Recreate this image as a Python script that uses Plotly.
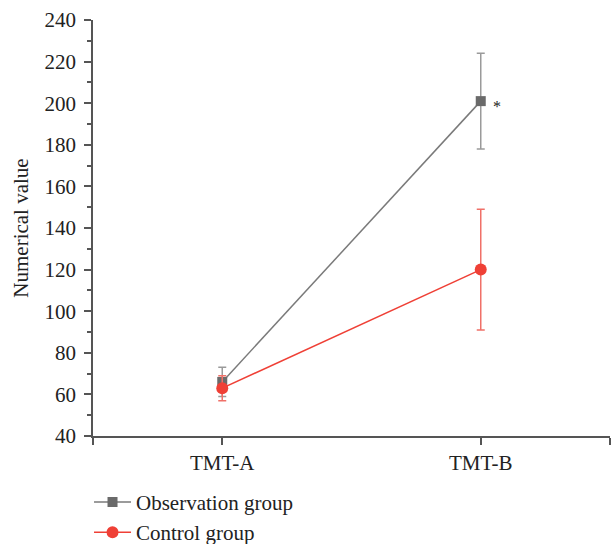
import plotly.graph_objects as go

categories = ["TMT-A", "TMT-B"]
cat_pos = [0, 1]
obs_values = [66, 201]
obs_err = [7, 23]
ctrl_values = [63, 120]
ctrl_err = [6, 29]
y_ticks = [40, 60, 80, 100, 120, 140, 160, 180, 200, 220, 240]

FONT = "Liberation Serif"
GRAY = "#6a6a6a"
RED = "#ef4036"

fig = go.Figure()
fig.add_trace(go.Scatter(
    x=cat_pos, y=obs_values, name="Observation group", mode="lines+markers",
    line=dict(color="#7a7a7a", width=1.5),
    marker=dict(symbol="square", size=10, color=GRAY),
    error_y=dict(type="data", array=obs_err, visible=True, color="#9a9a9a", thickness=1.5, width=4),
))
fig.add_trace(go.Scatter(
    x=cat_pos, y=ctrl_values, name="Control group", mode="lines+markers",
    line=dict(color=RED, width=1.5),
    marker=dict(symbol="circle", size=12, color=RED),
    error_y=dict(type="data", array=ctrl_err, visible=True, color="#f07068", thickness=1.5, width=4),
))

fig.add_annotation(x=cat_pos[1], y=obs_values[1], text="*", showarrow=False,
                   xshift=16, yshift=-5, font=dict(family=FONT, size=16, color="#222"))

fig.update_layout(
    width=616, height=544,
    margin=dict(l=93, r=6, t=20, b=108, autoexpand=False),
    paper_bgcolor="white", plot_bgcolor="white",
    font=dict(family=FONT, size=21, color="#222"),
    showlegend=True,
    legend=dict(x=-0.0077, y=-0.11, xanchor="left", yanchor="top",
                font=dict(family=FONT, size=21, color="#222"), itemwidth=37,
                bgcolor="rgba(0,0,0,0)", tracegroupgap=0),
    xaxis=dict(range=[-0.5, 1.5], tickvals=cat_pos, ticktext=categories,
               showgrid=False, zeroline=False, showline=True, linecolor="#555", linewidth=1.5,
               ticks="outside", ticklen=7, tickcolor="#555", tickwidth=1.5,
               minor=dict(tick0=-0.5, dtick=2, ticks="outside", ticklen=7, tickcolor="#555", tickwidth=1.5),
               tickfont=dict(family=FONT, size=21)),
    yaxis=dict(range=[40, 240], tickvals=y_ticks, showgrid=False, zeroline=False,
               showline=True, linecolor="#555", linewidth=1.5,
               ticks="outside", ticklen=7, tickcolor="#555", tickwidth=1.5,
               ticklabelstandoff=4,
               minor=dict(dtick=10, ticks="outside", ticklen=4, tickcolor="#555", tickwidth=1.5),
               tickfont=dict(family=FONT, size=21),
               title=dict(text="Numerical value", font=dict(family=FONT, size=21), standoff=10)),
)

fig.write_html("out.html")
